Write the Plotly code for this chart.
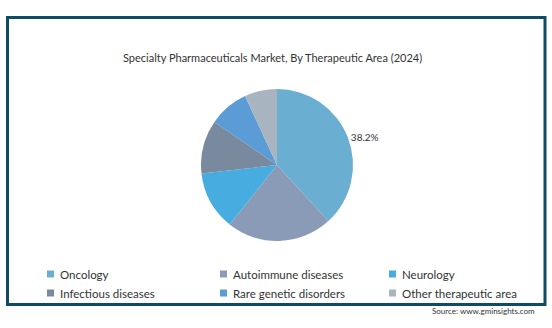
import plotly.graph_objects as go

W, H = 552, 328

# Market share by therapeutic area, 2024 (%)
areas = ["Oncology", "Autoimmune diseases", "Neurology",
         "Infectious diseases", "Rare genetic disorders", "Other therapeutic area"]
shares = [38.2, 22.5, 12.5, 11.4, 8.5, 6.9]
colors = ["#6aaed2", "#8a9bb8", "#47acdf", "#7a8a9e", "#5b9bd6", "#a8b5c0"]
shown_labels = ["38.2%", "", "", "", "", ""]

title_text = "Specialty Pharmaceuticals Market, By Therapeutic Area (2024)"
source_text = "Source: www.gminsights.com"
FONT = "Lato"


def px(x):
    return x / W


def py(y):
    return 1 - y / H


cx, cy, r = 277, 165, 76

fig = go.Figure(go.Pie(
    labels=areas,
    values=shares,
    text=shown_labels,
    textinfo="text",
    textposition="outside",
    sort=False,
    direction="clockwise",
    rotation=0,
    marker=dict(colors=colors, line=dict(width=0)),
    textfont=dict(family=FONT, size=10, color="#333333"),
    domain=dict(x=[px(cx - r), px(cx + r)], y=[py(cy + r), py(cy - r)]),
    showlegend=False,
    hoverinfo="label+percent",
))

shapes = [dict(type="rect", xref="paper", yref="paper",
               x0=px(7.5), x1=px(545), y0=py(17.5), y1=py(304.5),
               line=dict(color="#0f4b67", width=3), fillcolor="rgba(0,0,0,0)")]
annotations = [
    dict(text=title_text, xref="paper", yref="paper", x=px(272), y=py(57),
         showarrow=False, xanchor="center", yanchor="middle",
         font=dict(family=FONT, size=11, color="#333333")),
    dict(text=source_text, xref="paper", yref="paper", x=px(537), y=py(311),
         showarrow=False, xanchor="right", yanchor="middle",
         font=dict(family=FONT, size=8, color="#333333")),
]

# Legend: three columns, two rows
col_x = [47, 220, 389]
row_y = [274, 293]
sq = 7
for i, (name, col) in enumerate(zip(areas, colors)):
    x0 = col_x[i % 3]
    yc = row_y[i // 3]
    shapes.append(dict(type="rect", xref="paper", yref="paper",
                       x0=px(x0), x1=px(x0 + sq), y0=py(yc + sq / 2), y1=py(yc - sq / 2),
                       line=dict(width=0), fillcolor=col))
    annotations.append(dict(text=name, xref="paper", yref="paper",
                            x=px(x0 + sq + 4), y=py(yc), showarrow=False,
                            xanchor="left", yanchor="middle",
                            font=dict(family=FONT, size=11.5, color="#333333")))

fig.update_layout(
    width=W, height=H,
    margin=dict(l=0, r=0, t=0, b=0),
    paper_bgcolor="white",
    plot_bgcolor="white",
    shapes=shapes,
    annotations=annotations,
)

fig.write_html("out.html")
